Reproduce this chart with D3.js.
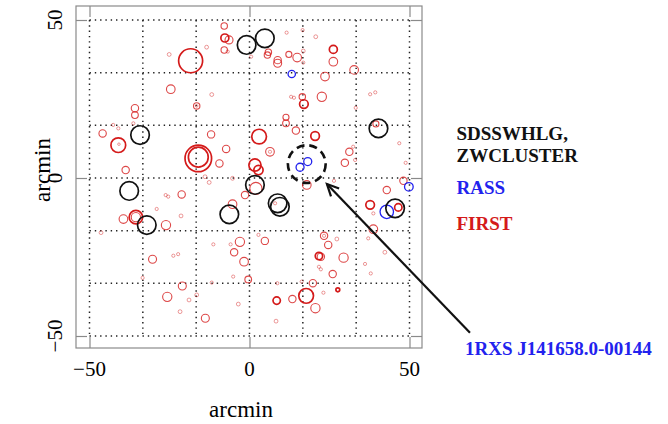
<!DOCTYPE html>
<html><head><meta charset="utf-8">
<script src="https://cdn.jsdelivr.net/npm/d3@7/dist/d3.min.js"></script>
<style>body{margin:0;background:#fff}svg{display:block}</style>
</head><body>
<svg id="c" width="668" height="424"></svg>
<script>
// ---- data (arcmin) ----
// FIRST radio sources: [x, y, radius(arcmin), heavy]
const firstSources = [
[-7.9,48.1,1.0,0],[-7.7,44.3,1.25,1],[-6.4,43.7,1.25,0],[-7.9,40.5,1.0,0],[-6.8,40.0,0.5,0],
[-13.4,41.4,0.6,0],[-25.1,39.1,0.6,0],[-18.4,37.1,3.75,1],[-24.6,28.1,1.35,0],[-11.8,26.4,0.6,0],
[-16.5,22.8,1.0,0],[-16.5,22.8,0.4,0],[-35.8,22.1,1.15,0],[-35.8,19.9,1.05,0],[11.6,46.0,0.5,0],
[16.6,46.8,0.5,0],[20.7,44.7,0.6,0],[5.9,39.8,1.0,0],[5.6,38.9,1.0,0],[0.5,38.4,0.5,0],
[8.8,37.3,1.15,0],[8.8,36.3,1.25,0],[12.3,39.1,0.95,0],[14.9,38.1,1.35,0],[16.8,40.2,0.6,0],
[16.8,36.5,0.5,0],[26.2,40.7,1.25,1],[26.2,36.8,1.35,0],[23.6,32.1,1.35,0],[32.7,34.2,1.35,0],
[37.7,26.5,0.5,0],[39.3,27.1,0.5,0],[13.0,25.7,0.5,0],[13.9,25.4,0.5,0],[16.5,25.7,1.0,0],
[17.0,23.4,1.35,1],[22.6,25.7,1.45,0],[33.2,22.2,0.5,0],[11.4,19.2,0.95,0],[-42.6,16.8,0.5,0],
[-41.0,15.7,0.5,0],[-36.3,17.3,0.5,0],[-45.9,14.1,1.15,0],[-41.0,10.4,2.3,1],[-40.8,10.7,0.4,0],
[-12.0,13.8,1.15,0],[-7.3,9.2,1.15,0],[-16.0,6.2,4.15,1],[-16.0,6.6,3.1,1],[-9.4,4.6,1.15,0],
[-38.7,2.5,1.15,0],[-13.9,0.4,0.6,0],[-12.6,-1.4,0.6,0],[-5.3,-0.1,0.6,0],[-26.2,-5.4,0.5,0],
[-25.4,-5.9,0.5,0],[-21.2,-5.2,1.15,0],[-29.0,-9.8,0.5,0],[-21.4,-12.0,0.6,0],[-5.3,-8.3,1.35,0],
[-1.4,-5.4,1.15,0],[-39.4,-13.0,1.35,0],[-35.5,-12.4,2.1,1],[-35.5,-12.4,1.45,0],[-26.1,-14.9,1.45,0],
[11.4,17.3,1.05,0],[14.5,15.0,1.15,0],[3.0,13.1,2.3,1],[39.5,17.1,0.95,0],[20.5,13.3,1.35,1],
[6.4,8.3,1.35,0],[6.4,8.3,0.5,0],[46.8,11.0,0.5,0],[31.2,8.3,1.15,0],[32.4,9.9,0.5,0],
[33.0,5.7,0.5,0],[29.8,4.8,1.15,0],[48.8,4.8,0.5,0],[1.7,4.1,1.9,1],[2.8,2.5,1.45,1],
[2.0,-3.3,1.9,0],[17.9,-2.2,1.35,0],[26.4,-0.9,0.5,0],[48.1,-0.9,1.15,0],[42.9,-3.8,1.15,0],
[8.0,-8.0,0.5,0],[37.7,-8.5,1.35,1],[38.7,-11.2,0.5,0],[46.5,-9.3,1.15,1],[38.7,-16.2,1.35,0],
[-46.4,-17.3,0.6,0],[-30.3,-25.7,1.25,0],[-23.8,-24.6,0.5,0],[-22.3,-24.1,0.5,0],[-11.3,-21.0,0.5,0],
[-5.9,-21.0,0.5,0],[-3.0,-20.2,1.45,0],[-4.8,-23.5,1.15,0],[-1.7,-26.5,1.35,0],[-0.4,-32.1,1.05,0],
[-33.4,-31.6,0.5,0],[-5.1,-31.2,0.5,0],[-11.8,-33.1,0.5,0],[-21.0,-34.2,1.25,0],[-25.7,-37.6,1.45,0],
[-18.9,-38.6,0.6,0],[-16.5,-37.0,0.6,0],[-21.7,-42.3,0.6,0],[-3.5,-39.9,0.6,0],[-13.8,-44.4,1.25,0],
[2.8,-18.0,0.5,0],[4.8,-19.9,1.15,0],[23.3,-18.3,1.15,0],[23.3,-18.3,0.5,0],[27.3,-19.3,0.6,0],
[24.6,-21.2,1.15,0],[21.7,-24.7,1.15,1],[22.3,-24.9,1.15,0],[29.4,-25.2,1.45,0],[21.7,-28.1,0.5,0],
[22.3,-28.9,0.5,0],[26.0,-30.4,1.15,0],[36.1,-27.2,0.5,0],[37.9,-30.2,0.5,0],[42.3,-23.5,0.6,0],
[37.1,-19.1,0.5,0],[8.7,-33.3,0.5,0],[16.3,-32.8,0.5,0],[19.8,-33.3,1.15,0],[23.1,-36.3,0.5,0],
[27.6,-35.4,0.6,1],[17.7,-37.3,2.3,1],[8.5,-38.8,1.15,1],[13.4,-38.3,1.15,0],[20.6,-41.2,1.45,0],
[8.3,-45.3,0.6,0]
];
// SDSS WHL groups / ZW clusters: [x, y, radius]
const clusters = [
[-34.2,13.6,2.9],[-37.6,-4.1,2.9],[-32.1,-14.9,2.9],[-6.3,-11.5,2.9],[-0.9,42.1,2.9],[4.8,44.2,2.9],
[1.7,-2.2,2.9],[8.8,-8.0,2.9],[9.5,-9.1,2.9],[40.3,15.7,2.9],[45.5,-9.6,2.9]
];
// RASS X-ray sources: [x, y, radius]
const rassSources = [
[13.2,32.9,1.15],[18.2,5.2,1.25],[15.8,3.4,1.25],[49.8,-2.8,1.35],[42.9,-10.7,2.1]
];
const highlight = {x:17.9, y:4.4, r:5.9};
const arrowFrom = [68.9,-49.0], arrowTo = [24.2,-1.9];
const ticks = [-50,0,50];
const gridVals = [-50,-100/3,-50/3,0,50/3,100/3,50];
const legendLabels = ["SDSSWHLG,","ZWCLUSTER","RASS","FIRST"];
const annotation = "1RXS J141658.0-00144";

// ---- drawing ----
const RED="#d41a1a", BLUE="#2222ee", BLK="#111";
const svg = d3.select("#c");
const x = d3.scaleLinear().domain([-50,50]).range([89.5,409.5]);
const y = d3.scaleLinear().domain([-50,50]).range([336,20]);
const rs = v => x(v)-x(0);
const X0=x.invert(76), X1=x.invert(422), Y0=y.invert(348), Y1=y.invert(6);

// box
svg.append("rect").attr("x",x(X0)).attr("y",y(Y1)).attr("width",x(X1)-x(X0)).attr("height",y(Y0)-y(Y1))
  .attr("fill","none").attr("stroke","#8a8a8a").attr("stroke-width",1.2);

// grid
const g = svg.append("g").attr("stroke","#222").attr("stroke-width",1.5).attr("stroke-dasharray","1.4 3.9").attr("stroke-linecap","butt");
gridVals.forEach(v=>{
  g.append("line").attr("x1",x(v)).attr("x2",x(v)).attr("y1",y(50)).attr("y2",y(-50));
  g.append("line").attr("x1",x(-50)).attr("x2",x(50)).attr("y1",y(v)).attr("y2",y(v));
});

// axes (ticks inside)
const tl=-11;
const axB = d3.axisBottom(x).tickValues(ticks).tickSize(tl).tickFormat("");
const axT = d3.axisTop(x).tickValues(ticks).tickSize(tl).tickFormat("");
const axL = d3.axisLeft(y).tickValues(ticks).tickSize(tl).tickFormat("");
const axR = d3.axisRight(y).tickValues(ticks).tickSize(tl).tickFormat("");
[[axB,`translate(0,${y(Y0)})`],[axT,`translate(0,${y(Y1)})`],[axL,`translate(${x(X0)},0)`],[axR,`translate(${x(X1)},0)`]].forEach(([a,t])=>{
  const ga=svg.append("g").attr("transform",t).call(a);
  ga.select(".domain").remove();
  ga.selectAll("line").attr("stroke","#8a8a8a").attr("stroke-width",1.2);
});
const fmt = v => v<0 ? "\u2212"+Math.abs(v) : String(v);
svg.append("g").selectAll("text").data(ticks).join("text")
  .attr("x",d=>x(d)).attr("y",376).attr("text-anchor","middle")
  .attr("font-family","Liberation Serif, Times New Roman, serif").attr("font-size",21).text(fmt);
svg.append("g").selectAll("text").data(ticks).join("text")
  .attr("transform",d=>`translate(61.5,${y(d)}) rotate(-90)`).attr("text-anchor","middle")
  .attr("font-family","Liberation Serif, Times New Roman, serif").attr("font-size",21).text(fmt);
svg.append("text").attr("x",241).attr("y",417).attr("text-anchor","middle")
  .attr("font-family","Liberation Serif, Times New Roman, serif").attr("font-size",23).text("arcmin");
svg.append("text").attr("transform","translate(49.5,170) rotate(-90)").attr("text-anchor","middle")
  .attr("font-family","Liberation Serif, Times New Roman, serif").attr("font-size",23).text("arcmin");

// FIRST
svg.append("g").selectAll("circle").data(firstSources).join("circle")
  .attr("cx",d=>x(d[0])).attr("cy",d=>y(d[1])).attr("r",d=>rs(d[2]))
  .attr("fill","none").attr("stroke",RED)
  .attr("stroke-width",d=>d[3]?1.7:(d[2]<0.7?0.8:1.1))
  .attr("stroke-opacity",d=>d[3]?1:(d[2]<0.7?0.55:0.8));
// RASS
svg.append("g").selectAll("circle").data(rassSources).join("circle")
  .attr("cx",d=>x(d[0])).attr("cy",d=>y(d[1])).attr("r",d=>rs(d[2]))
  .attr("fill","none").attr("stroke",BLUE).attr("stroke-width",1.3);
// clusters
svg.append("g").selectAll("circle").data(clusters).join("circle")
  .attr("cx",d=>x(d[0])).attr("cy",d=>y(d[1])).attr("r",d=>rs(d[2]))
  .attr("fill","none").attr("stroke",BLK).attr("stroke-width",1.7);

// highlight
svg.append("circle").attr("cx",x(highlight.x)).attr("cy",y(highlight.y)).attr("r",rs(highlight.r))
  .attr("fill","none").attr("stroke",BLK).attr("stroke-width",2.6).attr("stroke-dasharray","8 5");

// arrow
const ax1=x(arrowFrom[0]), ay1=y(arrowFrom[1]), ax2=x(arrowTo[0]), ay2=y(arrowTo[1]);
svg.append("line").attr("x1",ax1).attr("y1",ay1).attr("x2",ax2).attr("y2",ay2).attr("stroke",BLK).attr("stroke-width",2.2);
const ang=Math.atan2(ay1-ay2,ax1-ax2), L=13, sp=Math.PI/7;
svg.append("path").attr("d",`M${ax2+L*Math.cos(ang+sp)},${ay2+L*Math.sin(ang+sp)}L${ax2},${ay2}L${ax2+L*Math.cos(ang-sp)},${ay2+L*Math.sin(ang-sp)}`)
  .attr("fill","none").attr("stroke",BLK).attr("stroke-width",2.2);

// legend text
const leg=[[legendLabels[0],140,BLK],[legendLabels[1],161.5,BLK],[legendLabels[2],193.5,BLUE],[legendLabels[3],230,RED]];
svg.append("g").selectAll("text").data(leg).join("text")
  .attr("x",456.5).attr("y",d=>d[1]).attr("fill",d=>d[2])
  .attr("font-family","Liberation Serif, Times New Roman, serif").attr("font-weight","bold").attr("font-size",19).text(d=>d[0]);
svg.append("text").attr("x",465).attr("y",355).attr("fill",BLUE)
  .attr("font-family","Liberation Serif, Times New Roman, serif").attr("font-weight","bold").attr("font-size",19).text(annotation);
</script>
</body></html>
